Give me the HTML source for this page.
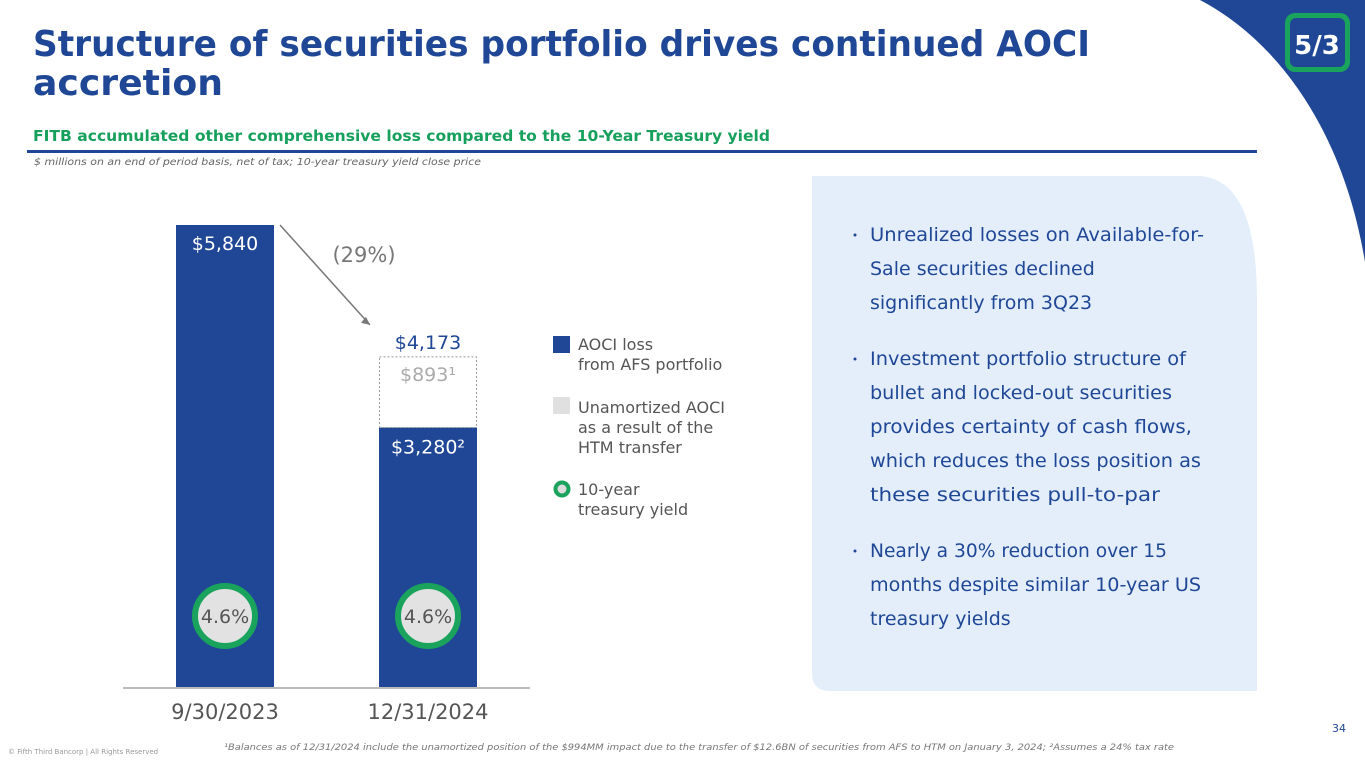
<!DOCTYPE html>
<html><head><meta charset="utf-8"><style>
body{margin:0;width:1365px;height:768px;overflow:hidden;background:#fff;font-family:"DejaVu Sans","Liberation Sans",sans-serif}
svg{display:block}
</style></head><body>
<svg id="s" width="1365" height="768" viewBox="0 0 1365 768" font-family="DejaVu Sans, Liberation Sans, sans-serif">
<path d="M1200,0 C1285,45 1345,140 1365,262 L1365,0 Z" fill="#1f4796"/>
<g>
<rect x="1285" y="13" width="65" height="59" rx="10" fill="#1aa35c"/>
<rect x="1290" y="18" width="55" height="49" rx="6" fill="#1f4796"/>
<text x="1317" y="54" font-size="26" font-weight="bold" fill="#fff" text-anchor="middle">5/3</text>
</g>
<text font-size="36" font-weight="bold" fill="#1f4796"><tspan x="33" y="56" textLength="1057" lengthAdjust="spacingAndGlyphs">Structure of securities portfolio drives continued AOCI</tspan><tspan x="33" y="95" textLength="190" lengthAdjust="spacingAndGlyphs">accretion</tspan></text>
<text x="33" y="141" font-size="15" font-weight="bold" fill="#16a05c" textLength="737" lengthAdjust="spacingAndGlyphs">FITB accumulated other comprehensive loss compared to the 10-Year Treasury yield</text>
<rect x="27" y="150" width="1230" height="3" fill="#1f4796"/>
<text x="34" y="165" font-size="10" font-style="italic" fill="#666" textLength="447" lengthAdjust="spacingAndGlyphs">$ millions on an end of period basis, net of tax; 10-year treasury yield close price</text>
<path d="M812,176 L1200,176 Q1257,180 1257,300 L1257,691 L830,691 Q812,691 812,673 Z" fill="#e3eefa"/>
<g font-size="19" fill="#1f4796">
<circle cx="855" cy="235" r="1.5"/><text x="870" y="241" textLength="334" lengthAdjust="spacingAndGlyphs">Unrealized losses on Available-for-</text>
<text x="870" y="275">Sale securities declined</text>
<text x="870" y="309">significantly from 3Q23</text>
<circle cx="855" cy="359" r="1.5"/><text x="870" y="365" textLength="316" lengthAdjust="spacingAndGlyphs">Investment portfolio structure of</text>
<text x="870" y="399" textLength="302" lengthAdjust="spacingAndGlyphs">bullet and locked-out securities</text>
<text x="870" y="433" textLength="322" lengthAdjust="spacingAndGlyphs">provides certainty of cash flows,</text>
<text x="870" y="467" textLength="331" lengthAdjust="spacingAndGlyphs">which reduces the loss position as</text>
<text x="870" y="501" textLength="290" lengthAdjust="spacingAndGlyphs">these securities pull-to-par</text>
<circle cx="855" cy="551" r="1.5"/><text x="870" y="557" textLength="297" lengthAdjust="spacingAndGlyphs">Nearly a 30% reduction over 15</text>
<text x="870" y="591" textLength="331" lengthAdjust="spacingAndGlyphs">months despite similar 10-year US</text>
<text x="870" y="625">treasury yields</text>
</g>
<g id="chart"></g>
<g font-size="16" fill="#555">
<rect x="553" y="336" width="17" height="17" fill="#1f4796"/>
<text x="578" y="350">AOCI loss</text><text x="578" y="370">from AFS portfolio</text>
<rect x="553" y="397" width="17" height="17" fill="#e0e0e0"/>
<text x="578" y="413">Unamortized AOCI</text><text x="578" y="433">as a result of the</text><text x="578" y="453">HTM transfer</text>
<circle cx="562" cy="489" r="6.5" fill="#ddd" stroke="#1aa35c" stroke-width="4"/>
<text x="578" y="495">10-year</text><text x="578" y="515">treasury yield</text>
</g>
<text x="8" y="754" font-size="7" fill="#999">© Fifth Third Bancorp | All Rights Reserved</text>
<text x="224" y="750" font-size="8.5" font-style="italic" fill="#777" textLength="950" lengthAdjust="spacingAndGlyphs">¹Balances as of 12/31/2024 include the unamortized position of the $994MM impact due to the transfer of $12.6BN of securities from AFS to HTM on January 3, 2024; ²Assumes a 24% tax rate</text>
<text x="1332" y="732" font-size="11" fill="#1f4796">34</text>
</svg>
<script>
const categories = ["9/30/2023", "12/31/2024"];
const afsValues = [5840, 3280];
const htmValues = [0, 893];
const yieldValues = [4.6, 4.6];
const totalLabels = ["$5,840", "$4,173"];
const afsLabels = ["", "$3,280²"];
const htmLabels = ["", "$893¹"];
const changeLabel = "(29%)";

const NS = "http://www.w3.org/2000/svg";
const g = document.getElementById("chart");
const baseY = 687, pxPerUnit = 462 / 5840;
const y = v => baseY - v * pxPerUnit;
const xCenter = i => 225 + i * 203;
const barW = 98;
function mk(tag, attrs, txt){const e=document.createElementNS(NS,tag);for(const k in attrs)e.setAttribute(k,attrs[k]);if(txt!==undefined)e.textContent=txt;g.appendChild(e);return e;}

const axis = mk("line",{x1:123,x2:530,y1:baseY+1,y2:baseY+1,stroke:"#bbb","stroke-width":2});



categories.forEach((c,i)=>{
  const cx = xCenter(i);
  const afsTop = y(afsValues[i]);
  const bar = mk("rect",{x:cx-barW/2,y:afsTop,width:barW,height:baseY-afsTop,fill:"#1f4796"});
  
  
  const totTop = y(afsValues[i]+htmValues[i]);
  if(htmValues[i]>0){
    const hb = mk("rect",{x:cx-barW/2+0.5,y:totTop,width:barW-1,height:afsTop-totTop,fill:"#fff",stroke:"#999","stroke-dasharray":"2,2"});
    
    
    const hl = mk("text",{x:cx,y:totTop+24,"font-size":19,fill:"#aaa","text-anchor":"middle"},htmLabels[i]);
    
    
    const al = mk("text",{x:cx,y:afsTop+26,"font-size":19,fill:"#fff","text-anchor":"middle"},afsLabels[i]);
    
    
    const tl = mk("text",{x:cx,y:totTop-8,"font-size":19,fill:"#1f4796","text-anchor":"middle"},totalLabels[i]);
    
    
  } else {
    const tl = mk("text",{x:cx,y:totTop+25,"font-size":19,fill:"#fff","text-anchor":"middle"},totalLabels[i]);
    
    
  }
  const circ = mk("circle",{cx:cx,cy:616,r:30,fill:"#e2e2e2",stroke:"#1aa35c","stroke-width":6});
  
  
  const yl = mk("text",{x:cx,y:623,"font-size":19,fill:"#555","text-anchor":"middle"},yieldValues[i].toFixed(1)+"%");
  
  
  const cl = mk("text",{x:cx,y:719,"font-size":21,fill:"#555","text-anchor":"middle"},c);
  
  
});
const t0 = y(afsValues[0]+htmValues[0]), t1 = y(afsValues[1]+htmValues[1]);
const arrow = mk("line",{x1:xCenter(0)+55,y1:t0,x2:xCenter(1)-58,y2:t1-32,stroke:"#777","stroke-width":1.5});


const ah = mk("path",{d:`M${xCenter(1)-58},${t1-32} l-9,-2 l5,-6 Z`,fill:"#777"});


const pct = mk("text",{x:364,y:262,"font-size":21,fill:"#777","text-anchor":"middle"},changeLabel);


</script>
</body></html>
